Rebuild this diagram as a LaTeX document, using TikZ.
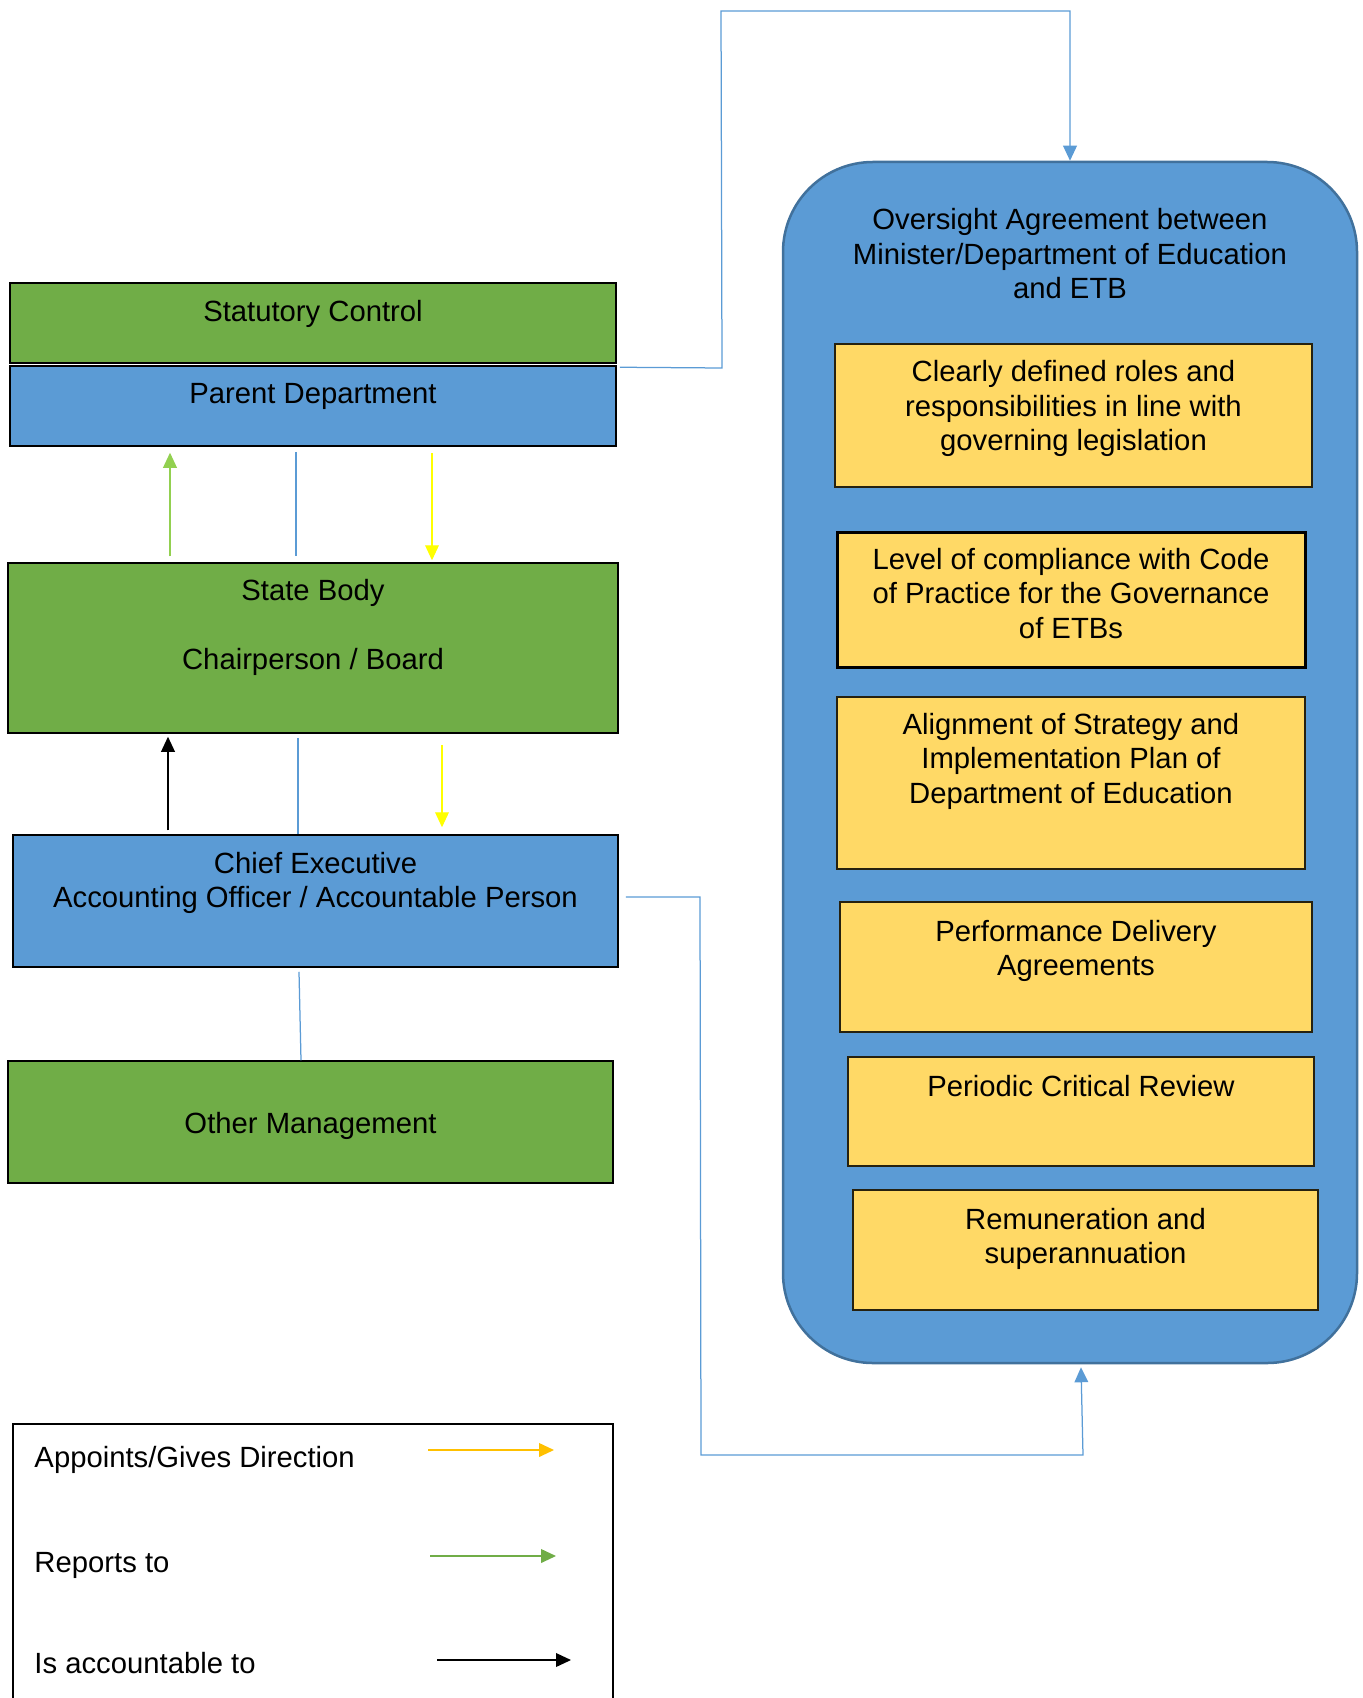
\documentclass[tikz,border=0pt]{standalone}
\usepackage{fontspec}
\setmainfont{Liberation Sans}
\usepackage{xcolor}
\usetikzlibrary{arrows.meta,calc}
\definecolor{boxgreen}{HTML}{70AD47}
\definecolor{boxblue}{HTML}{5B9BD5}
\definecolor{boxyellow}{HTML}{FFD966}
\definecolor{rimblue}{HTML}{41719C}
\definecolor{linkblue}{HTML}{5B9BD5}
\definecolor{appointyellow}{HTML}{FFFF00}
\definecolor{reportgreen}{HTML}{92D050}
\definecolor{keyorange}{HTML}{FFC000}

\begin{document}
\begin{tikzpicture}[
  x=0.4pt, y=-0.4pt,
  font=\fontsize{11.7}{13.8}\selectfont,
  >={Triangle[width=5.5pt,length=6pt]},
  box/.style={rectangle,draw=black,line width=0.6pt,inner sep=0pt},
  greenbox/.style={box,fill=boxgreen},
  bluebox/.style={box,fill=boxblue},
  yellowbox/.style={box,fill=boxyellow,draw=black!85!boxyellow},
  lbl/.style={anchor=north,align=center,inner sep=0pt},
  link/.style={draw=linkblue,line width=0.5pt},
  appoints/.style={draw=appointyellow,line width=0.5pt},
  reports/.style={draw=reportgreen,line width=0.5pt},
  accountable/.style={draw=black,line width=0.5pt},
  keytext/.style={anchor=west,inner sep=0pt}
]
  \useasboundingbox (0,0) rectangle (1363,1698);

  \node[greenbox,minimum width=242.4pt,minimum height=32pt,
    label={[lbl,yshift=-7pt]north:Statutory Control}] (sc) at (313,323) {};
  \node[bluebox,minimum width=242.4pt,minimum height=32pt,
    label={[lbl,yshift=-7pt]north:Parent Department}] (pd) at (313,406) {};
  \node[greenbox,minimum width=244pt,minimum height=68pt,
    label={[lbl,yshift=-6.6pt]north:State Body\\[13.8pt]Chairperson / Board}] (sb) at (313,648) {};
  \node[bluebox,minimum width=242pt,minimum height=52.8pt,
    label={[lbl,yshift=-7pt]north:Chief Executive\\Accounting Officer / Accountable Person}] (ce) at (315.5,901) {};
  \node[greenbox,minimum width=242pt,minimum height=48.8pt,
    label={[inner sep=0pt,yshift=-1.6pt]center:Other Management}] (om) at (310.5,1122) {};

  \node[rectangle,rounded corners=36pt,draw=rimblue,line width=1pt,fill=boxblue,
    minimum width=229.6pt,minimum height=480.4pt,
    label={[lbl,yshift=-19pt]north:Oversight Agreement between\\Minister/Department of Education\\and ETB}] (ov) at (1070,762.5) {};
  \node[yellowbox,minimum width=190.8pt,minimum height=57.2pt,
    label={[lbl,yshift=-6.8pt]north:Clearly defined roles and\\responsibilities in line with\\governing legislation}] (r1) at (1073.5,415.5) {};
  \node[yellowbox,draw=black,line width=1.2pt,minimum width=187.2pt,minimum height=54pt,
    label={[lbl,yshift=-6.8pt]north:Level of compliance with Code\\of Practice for the Governance\\of ETBs}] (r2) at (1071,599.5) {};
  \node[yellowbox,minimum width=187.2pt,minimum height=68.8pt,
    label={[lbl,yshift=-6.6pt]north:Alignment of Strategy and\\Implementation Plan of\\Department of Education}] (r3) at (1071,783) {};
  \node[yellowbox,minimum width=188.8pt,minimum height=52pt,
    label={[lbl,yshift=-7.4pt]north:Performance Delivery\\Agreements}] (r4) at (1076,967) {};
  \node[yellowbox,minimum width=186.4pt,minimum height=43.6pt,
    label={[lbl,yshift=-7.4pt]north:Periodic Critical Review}] (r5) at (1081,1111.5) {};
  \node[yellowbox,minimum width=186pt,minimum height=48pt,
    label={[lbl,yshift=-7.4pt]north:Remuneration and\\superannuation}] (r6) at (1085.5,1250) {};

  \draw[reports,->] ($(sb.north)+(-143,-6)$) -- ($(pd.south)+(-143,6)$);
  \draw[link] ($(pd.south)+(-17,5)$) -- ($(sb.north)+(-17,-6)$);
  \draw[appoints,->] ($(pd.south)+(119,6)$) -- ($(sb.north)+(119,-2)$);
  \draw[accountable,->] ($(ce.north)+(-147.5,-4)$) -- ($(sb.south)+(-145,3)$);
  \draw[link] ($(sb.south)+(-15,4)$) -- ($(ce.north)+(-17.5,0)$);
  \draw[appoints,->] ($(sb.south)+(129,11)$) -- ($(ce.north)+(126.5,-7)$);
  \draw[link] ($(ce.south)+(-16.5,4)$) -- ($(om.north)+(-9.5,0)$);

  \draw[link,->] ([xshift=1.2pt,yshift=-0.8pt]pd.north east) -- (722,368) -- (721,11) -- (1070,11) -- (ov.north);
  \draw[link,->] ([xshift=2.8pt,yshift=1.6pt]ce.east) -- (700,897) -- (701,1455) -- (1083,1455) -- ([xshift=4.4pt,yshift=-1.2pt]ov.south);

  \node[rectangle,draw=black,line width=0.5pt,minimum width=240pt,minimum height=114.4pt] (legend) at (313,1567) {};
  \node[keytext] (k1) at (34,1460) {Appoints/Gives Direction};
  \node[keytext] (k2) at (34,1565) {Reports to};
  \node[keytext] (k3) at (34,1663) {Is accountable to};
  \coordinate (k1a) at (428,1450);
  \coordinate (k1b) at (554,1450);
  \coordinate (k2a) at (430,1556);
  \coordinate (k2b) at (556,1556);
  \coordinate (k3a) at (437,1660);
  \coordinate (k3b) at (571,1660);
  \draw[draw=keyorange,line width=0.6pt,->] (k1a) -- (k1b);
  \draw[draw=boxgreen,line width=0.6pt,->] (k2a) -- (k2b);
  \draw[accountable,->] (k3a) -- (k3b);
\end{tikzpicture}
\end{document}
